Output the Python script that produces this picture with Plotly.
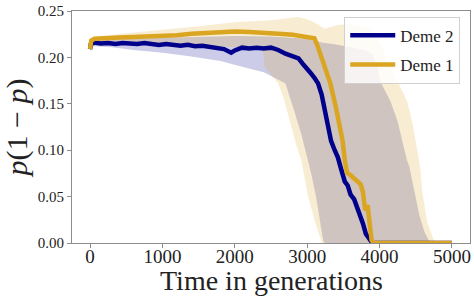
import plotly.graph_objects as go

# ---- Deme 2 (blue) mean line ----
t_d2 = [0, 10, 50, 150, 250, 350, 450, 550, 650, 750, 850, 950, 1050, 1150, 1250, 1350,
        1450, 1550, 1650, 1750, 1850, 1950, 2000, 2100, 2200, 2300, 2400, 2500, 2600, 2700,
        2800, 2880, 2950, 3000, 3050, 3100, 3150, 3200, 3240, 3280, 3330, 3380, 3425, 3460,
        3520, 3560, 3600, 3650, 3700, 3740, 3770, 3810, 3850, 3880, 3900, 5000]
p_d2 = [0.209, 0.214, 0.216, 0.215, 0.2155, 0.2145, 0.2155, 0.215, 0.2145, 0.2155, 0.2145,
        0.2135, 0.2145, 0.213, 0.2125, 0.2135, 0.212, 0.2125, 0.211, 0.2105, 0.209, 0.205,
        0.2075, 0.2105, 0.2095, 0.2105, 0.2095, 0.2105, 0.208, 0.204, 0.2015, 0.199, 0.192,
        0.188, 0.183, 0.178, 0.172, 0.16, 0.145, 0.128, 0.11, 0.1, 0.092, 0.082, 0.066, 0.062,
        0.052, 0.047, 0.037, 0.029, 0.021, 0.01, 0.005, 0.002, 0.0, 0.0]

# ---- Deme 1 (gold) mean line ----
t_d1 = [0, 15, 60, 200, 400, 600, 800, 1000, 1200, 1400, 1600, 1800, 2000, 2200, 2400, 2600,
        2800, 3000, 3100, 3150, 3240, 3320, 3400, 3450, 3490, 3520, 3530, 3550, 3600, 3650,
        3700, 3740, 3770, 3800, 3825, 3835, 3850, 3870, 3890, 3920, 5000]
p_d1 = [0.209, 0.218, 0.22, 0.221, 0.2215, 0.222, 0.2225, 0.223, 0.224, 0.2255, 0.2265, 0.2275,
        0.228, 0.2275, 0.227, 0.2255, 0.2245, 0.222, 0.2205, 0.211, 0.19, 0.172, 0.145, 0.128,
        0.11, 0.089, 0.083, 0.076, 0.073, 0.07, 0.066, 0.063, 0.055, 0.037, 0.036, 0.041, 0.03,
        0.012, 0.003, 0.0, 0.0]

# ---- Deme 2 band ----
t_d2_up = [0, 100, 500, 1000, 1500, 2000, 2500, 3000, 3100, 3200, 3400, 3600, 3800, 3900, 3970,
           4010, 4150, 4250, 4315, 4380, 4410, 4480, 4550, 4620, 4660, 4700, 5000]
p_d2_up = [0.211, 0.219, 0.22, 0.221, 0.222, 0.223, 0.2225, 0.22, 0.218, 0.216, 0.214, 0.211,
           0.208, 0.203, 0.19, 0.174, 0.153, 0.131, 0.11, 0.089, 0.083, 0.055, 0.03, 0.012,
           0.005, 0.0, 0.0]
t_d2_lo = [0, 50, 300, 600, 1000, 1400, 1800, 2100, 2400, 2600, 2700, 2810, 2920, 3010, 3055,
           3120, 3180, 3220, 3240, 5000]
p_d2_lo = [0.207, 0.212, 0.211, 0.208, 0.205, 0.201, 0.196, 0.19, 0.184, 0.176, 0.172, 0.145,
           0.117, 0.089, 0.075, 0.051, 0.022, 0.003, 0.0, 0.0]

# ---- Deme 1 band ----
t_d1_up = [0, 50, 500, 1000, 1500, 2000, 2500, 2877, 3000, 3100, 3240, 3425, 3600, 3800, 3900,
           3970, 4110, 4250, 4380, 4450, 4500, 4550, 4560, 4590, 4660, 4750, 4780, 5000]
p_d1_up = [0.211, 0.222, 0.226, 0.2295, 0.2335, 0.238, 0.24, 0.2435, 0.241, 0.238, 0.231, 0.235,
           0.236, 0.233, 0.229, 0.222, 0.196, 0.174, 0.153, 0.131, 0.11, 0.089, 0.083, 0.055,
           0.022, 0.003, 0.0, 0.0]
t_d1_lo = [0, 50, 500, 1000, 1500, 2000, 2300, 2390, 2410, 2500, 2600, 2680, 2760, 2850, 2920,
           3010, 3110, 3180, 3200, 5000]
p_d1_lo = [0.207, 0.214, 0.215, 0.214, 0.213, 0.211, 0.209, 0.208, 0.19, 0.182, 0.172, 0.155,
           0.132, 0.105, 0.089, 0.051, 0.022, 0.006, 0.0, 0.0]

x_ticks = [0, 1000, 2000, 3000, 4000, 5000]
y_ticks = [0.0, 0.05, 0.10, 0.15, 0.20, 0.25]

BLUE = "#00008B"
GOLD = "#DAA520"
FONT = "Liberation Serif, serif"

fig = go.Figure()

def band(t_up, p_up, t_lo, p_lo, color):
    xs = list(t_up) + list(reversed(t_lo))
    ys = list(p_up) + list(reversed(p_lo))
    fig.add_trace(go.Scatter(x=xs, y=ys, fill="toself", fillcolor=color, mode="lines",
                             line=dict(width=0), hoverinfo="skip", showlegend=False))

band(t_d2_up, p_d2_up, t_d2_lo, p_d2_lo, "rgba(0,0,139,0.2)")
band(t_d1_up, p_d1_up, t_d1_lo, p_d1_lo, "rgba(218,165,32,0.2)")

fig.add_trace(go.Scatter(x=t_d2, y=p_d2, mode="lines", name="Deme 2", legendgroup="g2",
                         line=dict(color=BLUE, width=4.5)))
fig.add_trace(go.Scatter(x=t_d1, y=p_d1, mode="lines", name="Deme 1", legendgroup="g1",
                         line=dict(color=GOLD, width=4.5)))

axis_common = dict(showgrid=False, zeroline=False, showline=True, mirror=True,
                   linecolor="#8c8c8c", linewidth=1, ticks="outside", ticklen=4,
                   tickcolor="#8c8c8c", tickwidth=1)

fig.update_layout(
    width=474, height=300,
    margin=dict(l=72, r=3, t=9, b=57),
    plot_bgcolor="white", paper_bgcolor="white",
    font=dict(family=FONT, color="#222"),
    xaxis=dict(range=[-250, 5250], tickvals=x_ticks, ticktext=[str(v) for v in x_ticks],
               tickfont=dict(size=19, family=FONT), ticklabelstandoff=-8,
               **axis_common),
    yaxis=dict(range=[0, 0.25], tickvals=y_ticks, ticktext=[f"{v:.2f}" for v in y_ticks],
               tickfont=dict(size=15, family=FONT),
               title=dict(text="<i>p</i>(1 − <i>p</i>)", font=dict(size=30, family=FONT), standoff=6),
               **axis_common),
    legend=dict(x=0.684, y=0.975, xanchor="left", yanchor="top", itemwidth=45,
                bgcolor="rgba(255,255,255,0.8)", bordercolor="#d0d0d0", borderwidth=1,
                font=dict(size=17, family=FONT), tracegroupgap=4),
    annotations=[dict(text="Time in generations", xref="paper", yref="paper", x=0.5, y=0,
                      xanchor="center", yanchor="top", yshift=-20, showarrow=False,
                      font=dict(size=28, family=FONT, color="#222"))],
    showlegend=True,
)

fig.write_html("out.html", config={"displayModeBar": False},
               post_script="document.body.style.margin='0';")
